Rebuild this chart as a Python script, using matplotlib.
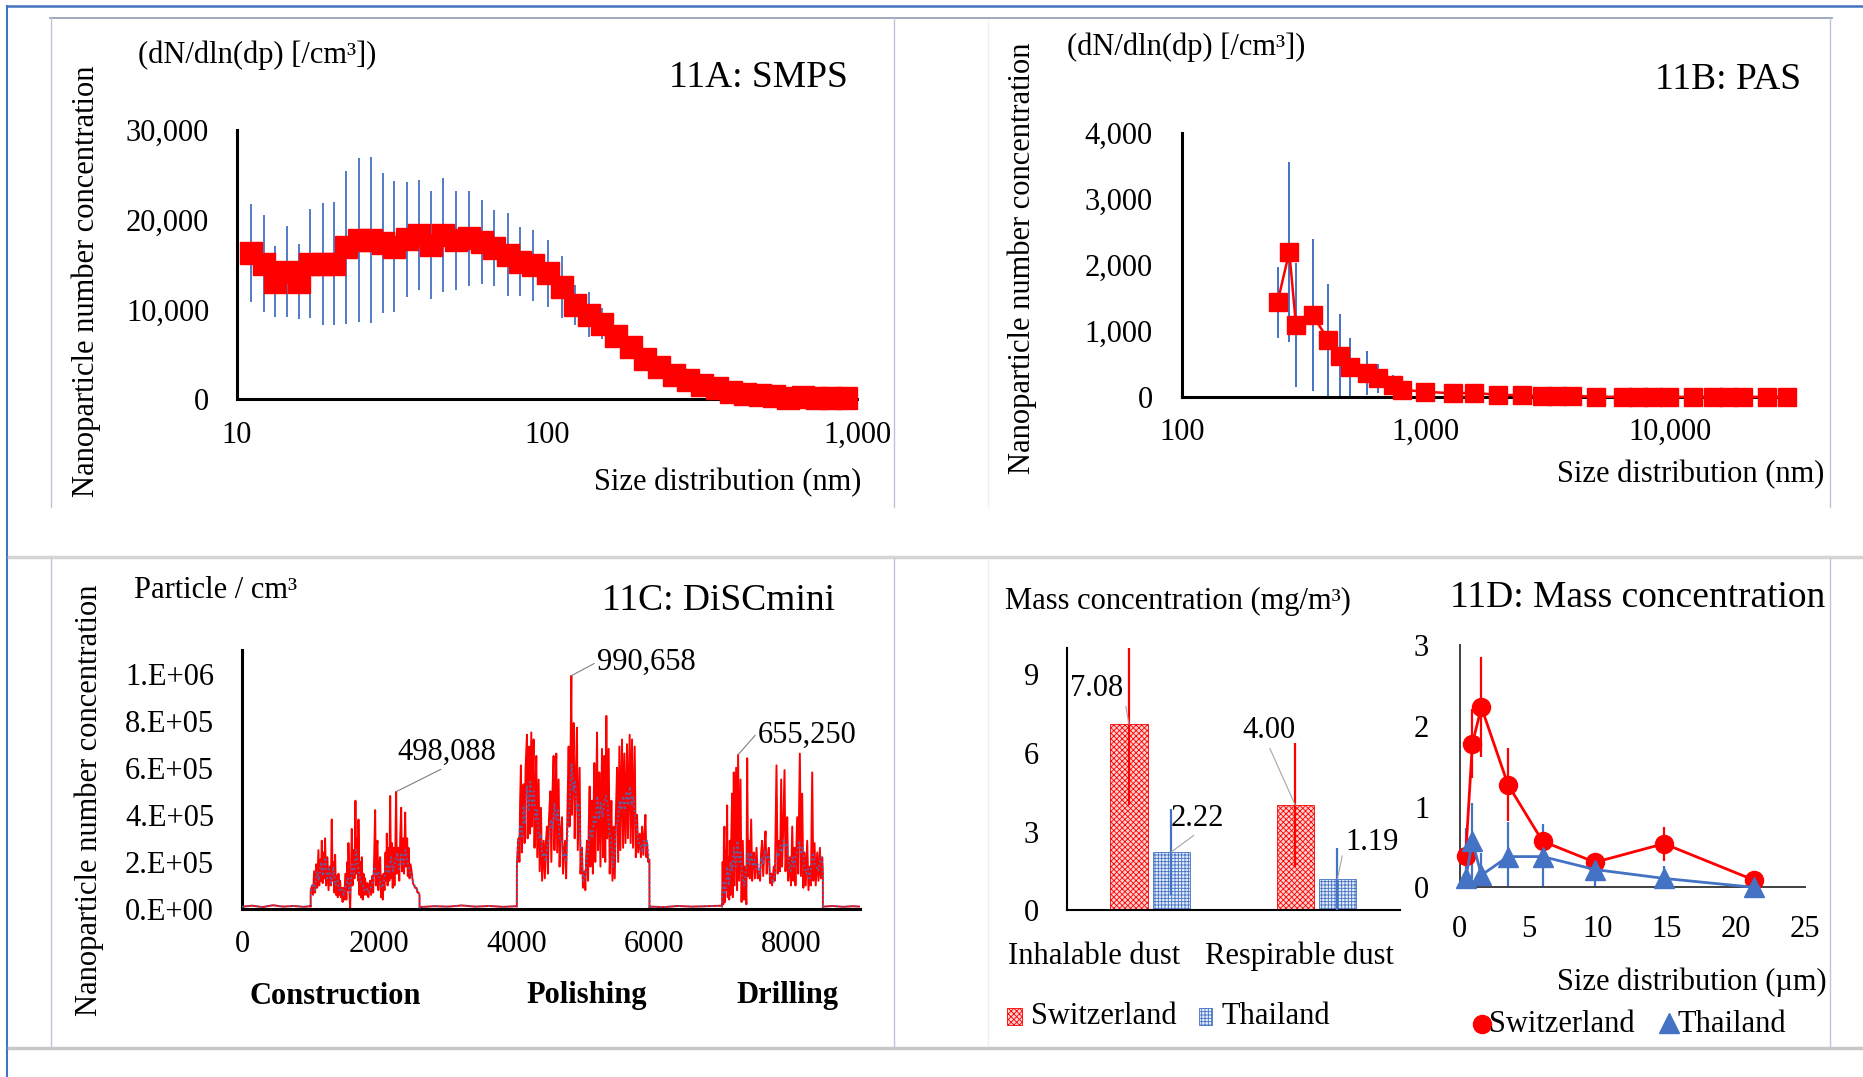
import numpy as np
import matplotlib as mpl
import matplotlib.pyplot as plt
from matplotlib.lines import Line2D
from matplotlib.patches import Rectangle
from matplotlib.ticker import NullLocator

# ---------------- style ----------------
mpl.rcParams.update({
    "font.family": ["Liberation Serif", "DejaVu Serif"],
    "font.size": 22,
    "hatch.linewidth": 0.6,
})

W, H = 1863, 1077
RED = "#FF0000"
BLUE = "#4472C4"

# ---------------- data ----------------
# 11A: SMPS, size (nm), mean and SD (dN/dln(dp) per cm3)
smps_size = [11.1, 12.2, 13.3, 14.5, 15.8, 17.2, 18.9, 20.5, 22.5, 24.7, 27.0, 29.6, 32.2, 35.4,
             38.6, 42.3, 46.3, 50.8, 56.1, 61.6, 67.6, 74.6, 81.9, 90.3, 100.4, 111.7, 123.2,
             136.4, 150.4, 167.4, 186.2, 207.1, 230.3, 256.2, 284.9, 316.9, 352.5, 392.0,
             436.1, 485.1, 539.6, 600.1, 667.5, 742.5, 825.8, 918.5]
smps_mean = [16300, 15100, 13100, 14200, 13100, 15100, 15100, 15100, 16900, 17700, 17700, 17400,
             17000, 17800, 18300, 17200, 18300, 17700, 17900, 17500, 16800, 16100, 15300, 14900,
             14000, 12500, 10500, 9400, 8400, 7000, 5800, 4500, 3600, 2700, 2100, 1600, 1200,
             800, 600, 450, 300, 150, 250, 150, 150, 120]
smps_sd = [5450, 5450, 3950, 5100, 4150, 6050, 6800, 6900, 8500, 9150, 9250, 7800, 7350, 6450,
           6100, 6000, 6400, 5550, 5250, 4700, 4250, 4600, 3850, 3950, 3750, 3450, 2250, 2500,
           1700, 1200, 800, 600, 450, 350, 250, 200, 150, 100, 80, 60, 50, 40, 30, 30, 30, 30]

# 11B: PAS
pas_size = [247, 276, 294, 344, 399, 446, 490, 573, 640, 735, 798, 993, 1290, 1582, 1985, 2490,
            2987, 3442, 3965, 4986, 6457, 7437, 8568, 9963, 12490, 15090, 17390, 20030, 24990, 30200]
pas_mean = [1435, 2200, 1090, 1240, 865, 625, 460, 360, 283, 180, 110, 80, 55, 65, 30, 30,
            15, 15, 15, 5, 2, 2, 2, 2, 2, 2, 2, 2, 2, 2]
pas_sd = [540, 1360, 935, 1155, 845, 636, 440, 330, 220, 150, 80, 40, 25, 20, 15, 10,
          8, 5, 5, 3, 0, 0, 0, 0, 0, 0, 0, 0, 0, 0]

# 11C: DiSCmini time series (time, particles/cm3 in units of 1e5)
disc_base_1 = [(0, 0.10), (150, 0.14), (300, 0.08), (450, 0.16), (600, 0.10), (750, 0.13),
               (900, 0.09), (999, 0.12)]
disc_base_2 = [(2590, 0.08), (2800, 0.12), (3000, 0.10), (3200, 0.15), (3400, 0.10),
               (3600, 0.13), (3800, 0.09), (4000, 0.12)]
disc_base_3 = [(5940, 0.10), (6150, 0.08), (6350, 0.13), (6550, 0.10), (6750, 0.12), (6990, 0.14)]
disc_base_4 = [(8465, 0.10), (8600, 0.13), (8750, 0.09), (8900, 0.12), (9000, 0.10)]

construction_red = [
    (1000, 0.1), (1001, 0.8), (1020, 1.0), (1035, 0.6), (1050, 1.6), (1065, 0.7), (1080, 1.9),
    (1095, 0.9), (1113, 2.5), (1125, 1.0), (1140, 2.1), (1150, 1.2), (1162, 2.9), (1175, 1.1),
    (1190, 2.4), (1200, 1.3), (1210, 3.0), (1225, 1.0), (1244, 2.2), (1260, 0.8), (1280, 1.8),
    (1295, 1.0), (1307, 3.8), (1320, 1.2), (1335, 2.0), (1345, 0.7), (1356, 2.3), (1370, 0.6),
    (1385, 1.4), (1395, 0.5), (1405, 1.5), (1415, 0.6), (1429, 1.2), (1440, 0.5), (1455, 0.9),
    (1465, 0.3), (1477, 0.9), (1490, 0.4), (1505, 1.5), (1520, 0.4), (1535, 2.0), (1545, 0.8),
    (1550, 2.8), (1565, 0.7), (1575, 0.0), (1585, 1.2), (1599, 3.4), (1610, 1.0), (1625, 2.5),
    (1638, 1.3), (1652, 4.6), (1665, 1.5), (1680, 3.0), (1690, 1.2), (1696, 3.8), (1710, 0.6),
    (1720, 2.0), (1732, 0.5), (1745, 2.2), (1758, 0.4), (1770, 1.5), (1780, 0.6), (1793, 1.3),
    (1810, 0.6), (1825, 1.1), (1840, 0.5), (1855, 1.0), (1866, 1.2), (1880, 0.6), (1895, 1.4),
    (1910, 0.7), (1925, 2.2), (1939, 4.2), (1950, 1.0), (1960, 2.5), (1973, 2.9), (1985, 0.8),
    (2000, 1.8), (2012, 2.2), (2025, 0.5), (2040, 1.4), (2050, 0.4), (2061, 1.5), (2075, 0.8),
    (2090, 2.4), (2100, 1.2), (2109, 3.2), (2120, 1.0), (2135, 2.6), (2145, 1.2), (2158, 4.8),
    (2170, 1.3), (2185, 2.8), (2195, 0.9), (2206, 2.6), (2220, 1.0), (2230, 1.9), (2245, 4.98088),
    (2255, 1.5), (2265, 2.4), (2279, 2.6), (2290, 1.2), (2305, 3.1), (2318, 4.3), (2330, 1.6),
    (2345, 3.0), (2360, 1.5), (2376, 4.1), (2390, 1.8), (2405, 3.0), (2415, 1.4), (2425, 2.6),
    (2440, 1.3), (2455, 1.9), (2474, 1.5), (2490, 1.1), (2505, 1.0), (2522, 0.9), (2540, 0.9),
    (2555, 0.7), (2571, 0.7), (2585, 0.6), (2586, 0.05)]
polishing_red = [
    (4003, 0.1), (4004, 1.9), (4015, 2.6), (4028, 3.0), (4040, 2.0), (4050, 4.5), (4062, 6.1),
    (4075, 2.4), (4088, 4.8), (4101, 5.3), (4115, 2.8), (4130, 6.0), (4150, 7.4), (4160, 3.0),
    (4172, 5.5), (4184, 6.9), (4195, 3.2), (4213, 7.5), (4225, 3.5), (4235, 5.8), (4247, 7.2),
    (4260, 2.6), (4275, 5.0), (4286, 6.5), (4300, 2.2), (4320, 5.5), (4335, 1.6), (4354, 4.3),
    (4370, 1.2), (4393, 2.9), (4410, 1.3), (4425, 2.8), (4441, 3.5), (4455, 1.5), (4470, 3.8),
    (4490, 5.0), (4505, 2.0), (4520, 4.8), (4538, 6.5), (4550, 2.5), (4565, 5.0), (4577, 6.6),
    (4590, 2.4), (4611, 5.5), (4625, 1.8), (4640, 3.2), (4660, 3.9), (4675, 1.5), (4690, 2.5),
    (4708, 2.9), (4720, 1.3), (4740, 4.2), (4757, 6.9), (4770, 3.5), (4785, 6.5), (4796, 9.90658),
    (4805, 4.0), (4818, 6.2), (4830, 7.9), (4845, 3.0), (4860, 5.5), (4878, 7.7), (4890, 2.5),
    (4905, 4.5), (4917, 6.0), (4930, 1.5), (4940, 2.2), (4951, 2.6), (4965, 0.9), (4985, 1.6),
    (5000, 0.8), (5012, 2.2), (5024, 2.9), (5040, 1.2), (5050, 3.5), (5063, 5.2), (5075, 1.8),
    (5085, 3.5), (5097, 4.6), (5110, 1.5), (5120, 4.0), (5131, 6.2), (5145, 2.0), (5158, 4.2),
    (5170, 7.5), (5185, 2.5), (5195, 4.0), (5204, 5.8), (5220, 1.8), (5232, 4.5), (5243, 6.8),
    (5258, 2.2), (5268, 4.8), (5277, 6.5), (5290, 2.0), (5306, 8.2), (5320, 3.0), (5330, 5.0),
    (5340, 6.8), (5355, 1.5), (5368, 3.0), (5379, 4.6), (5395, 1.2), (5413, 3.5), (5428, 1.3),
    (5445, 4.0), (5462, 6.0), (5478, 2.0), (5496, 6.9), (5510, 2.5), (5522, 5.0), (5534, 7.2),
    (5550, 2.6), (5568, 6.6), (5585, 2.8), (5607, 7.0), (5620, 3.0), (5635, 5.5), (5646, 7.4),
    (5660, 2.8), (5680, 7.2), (5695, 2.6), (5719, 6.9), (5735, 2.2), (5753, 4.0), (5770, 2.4),
    (5792, 3.2), (5810, 2.2), (5826, 3.5), (5845, 2.3), (5860, 3.2), (5875, 4.0), (5890, 2.2),
    (5899, 2.8), (5915, 2.0), (5933, 2.1), (5934, 0.05)]
drilling_red = [
    (6991, 0.1), (6992, 0.5), (7000, 2.0), (7010, 0.2), (7018, 2.8), (7026, 3.5), (7035, 0.3),
    (7045, 2.5), (7055, 0.8), (7065, 4.4), (7075, 0.5), (7085, 2.2), (7095, 0.4), (7104, 2.9),
    (7115, 0.6), (7125, 3.0), (7138, 4.9), (7148, 0.5), (7162, 5.8), (7175, 1.0), (7185, 3.5),
    (7196, 6.0), (7210, 0.8), (7225, 6.5525), (7240, 1.2), (7260, 5.5), (7275, 0.3), (7293, 2.9),
    (7310, 0.4), (7320, 1.8), (7332, 1.5), (7345, 0.2), (7357, 6.4), (7370, 1.4), (7381, 2.9),
    (7395, 1.3), (7415, 3.8), (7430, 1.2), (7440, 2.2), (7454, 2.4), (7470, 1.3), (7493, 2.6),
    (7510, 1.3), (7527, 1.6), (7545, 1.2), (7560, 2.4), (7575, 2.9), (7590, 1.4), (7610, 2.6),
    (7624, 3.3), (7640, 1.5), (7655, 2.2), (7672, 2.6), (7690, 1.1), (7706, 1.5), (7720, 1.0),
    (7745, 1.8), (7760, 1.2), (7784, 6.1), (7800, 1.5), (7818, 2.9), (7835, 1.6), (7852, 5.5),
    (7865, 1.8), (7880, 3.2), (7901, 5.9), (7915, 1.6), (7930, 2.5), (7940, 3.9), (7955, 1.2),
    (7968, 2.0), (7979, 2.2), (7995, 1.0), (8013, 3.5), (8030, 1.2), (8047, 2.6), (8060, 1.0),
    (8085, 3.9), (8100, 1.5), (8124, 6.6), (8140, 1.4), (8158, 4.9), (8175, 0.9), (8192, 2.4),
    (8210, 1.0), (8231, 2.9), (8250, 0.8), (8270, 1.8), (8285, 1.0), (8304, 5.8), (8320, 1.2),
    (8338, 2.8), (8355, 1.0), (8377, 2.4), (8395, 1.2), (8416, 2.6), (8430, 1.3), (8450, 2.2),
    (8459, 1.6), (8460, 0.05)]

construction_blue = [
    (1001, 0.7), (1030, 1.1), (1060, 0.8), (1090, 1.6), (1120, 1.2), (1150, 2.0), (1180, 1.4),
    (1210, 2.2), (1240, 1.3), (1270, 1.7), (1300, 1.1), (1330, 1.8), (1360, 1.0), (1390, 1.2),
    (1420, 0.8), (1450, 0.9), (1480, 0.6), (1510, 1.0), (1540, 1.3), (1570, 0.6), (1600, 1.9),
    (1630, 1.5), (1660, 2.5), (1690, 1.8), (1720, 1.2), (1750, 1.1), (1780, 0.8), (1810, 0.9),
    (1840, 0.7), (1870, 0.9), (1900, 1.1), (1930, 1.8), (1960, 1.4), (1990, 1.6), (2020, 1.0),
    (2050, 0.9), (2080, 1.4), (2110, 1.9), (2140, 1.5), (2170, 2.2), (2200, 1.6), (2230, 2.0),
    (2260, 2.4), (2290, 1.7), (2320, 2.4), (2350, 1.9), (2380, 2.5), (2410, 2.0), (2440, 1.6),
    (2470, 1.4), (2500, 1.1), (2530, 0.9), (2560, 0.8), (2585, 0.6), (2586, 0.05)]
polishing_blue = [
    (4004, 1.9), (4025, 2.8), (4050, 3.6), (4075, 3.0), (4100, 4.4), (4125, 3.6), (4150, 5.2),
    (4175, 4.2), (4200, 5.4), (4225, 4.4), (4250, 5.0), (4275, 3.8), (4300, 4.2), (4325, 3.0),
    (4350, 3.2), (4375, 2.2), (4400, 2.4), (4425, 2.0), (4450, 2.8), (4475, 3.0), (4500, 3.8),
    (4525, 3.4), (4550, 4.5), (4575, 3.8), (4600, 4.2), (4625, 3.0), (4650, 3.0), (4675, 2.2),
    (4700, 2.4), (4725, 2.0), (4750, 3.8), (4775, 4.6), (4800, 6.2), (4825, 5.0), (4850, 5.4),
    (4875, 4.2), (4900, 4.5), (4925, 3.0), (4950, 2.0), (4975, 1.2), (5000, 1.4), (5025, 2.2),
    (5050, 2.8), (5075, 3.4), (5100, 3.0), (5125, 4.0), (5150, 3.6), (5175, 4.8), (5200, 3.8),
    (5225, 4.5), (5250, 3.9), (5275, 4.6), (5300, 4.8), (5325, 4.4), (5350, 3.2), (5375, 3.0),
    (5400, 1.8), (5425, 2.4), (5450, 3.4), (5475, 3.8), (5500, 4.6), (5525, 4.2), (5550, 4.8),
    (5575, 4.2), (5600, 5.0), (5625, 4.4), (5650, 5.2), (5675, 4.4), (5700, 4.8), (5725, 3.8),
    (5750, 3.4), (5775, 2.8), (5800, 2.8), (5825, 2.4), (5850, 2.9), (5875, 2.6), (5900, 2.9),
    (5933, 2.0), (5934, 0.05)]
drilling_blue = [
    (6992, 0.4), (7015, 1.2), (7040, 0.6), (7065, 1.8), (7090, 1.0), (7115, 2.0), (7140, 1.6),
    (7165, 2.6), (7190, 1.8), (7215, 2.9), (7240, 2.0), (7265, 2.4), (7290, 1.3), (7315, 1.0),
    (7340, 1.6), (7365, 2.4), (7390, 1.9), (7415, 2.4), (7440, 1.8), (7465, 2.1), (7490, 1.7),
    (7515, 1.9), (7540, 1.5), (7565, 2.2), (7590, 1.9), (7615, 2.5), (7640, 2.1), (7665, 2.3),
    (7690, 1.4), (7715, 1.3), (7740, 1.1), (7765, 1.6), (7790, 2.4), (7815, 2.2), (7840, 2.7),
    (7865, 2.4), (7890, 3.0), (7915, 2.6), (7940, 2.8), (7965, 1.8), (7990, 1.6), (8015, 2.2),
    (8040, 1.8), (8065, 2.3), (8090, 2.5), (8115, 2.9), (8140, 2.4), (8165, 2.6), (8190, 1.8),
    (8215, 1.5), (8240, 1.7), (8265, 1.3), (8290, 1.8), (8315, 2.4), (8340, 1.9), (8365, 1.8),
    (8390, 1.6), (8415, 2.0), (8440, 2.2), (8459, 1.6), (8460, 0.05)]

peak_t = [2245, 4796, 7225]
peak_v = [498088, 990658, 655250]
activities = ["Construction", "Polishing", "Drilling"]

# 11D: mass concentration
dust_types = ["Inhalable dust", "Respirable dust"]
mass_swiss = [7.08, 4.00]
mass_swiss_sd = [3.07, 2.37]
mass_thai = [2.22, 1.19]
mass_thai_sd = [1.64, 1.17]

impactor_size = [0.43, 0.92, 1.57, 3.5, 6.0, 9.8, 14.8, 21.3]
imp_swiss = [0.39, 1.78, 2.23, 1.27, 0.57, 0.31, 0.54, 0.09]
imp_swiss_sd = [0.05, 0.43, 0.62, 0.45, 0.08, 0.03, 0.21, 0.03]
imp_thai = [0.11, 0.57, 0.15, 0.38, 0.38, 0.22, 0.11, 0.0]
imp_thai_sd = [0.63, 0.47, 0.28, 0.43, 0.40, 0.21, 0.15, 0.0]


# ---------------- helpers (pixel layout) ----------------
def rect(x0, y0, x1, y1):
    return [x0 / W, 1 - y1 / H, (x1 - x0) / W, (y1 - y0) / H]


def ftext(x, y, s, **kw):
    fig.text(x / W, 1 - y / H, s, **kw)


def fline(xs, ys, **kw):
    fig.add_artist(Line2D([x / W for x in xs], [1 - y / H for y in ys],
                          transform=fig.transFigure, **kw))


def style(ax, lw=2.2, color="black"):
    for s in ["top", "right"]:
        ax.spines[s].set_visible(False)
    for s in ["left", "bottom"]:
        ax.spines[s].set_linewidth(lw)
        ax.spines[s].set_color(color)
    ax.tick_params(length=0, labelsize=22)
    ax.xaxis.set_minor_locator(NullLocator())
    ax.yaxis.set_minor_locator(NullLocator())
    ax.patch.set_alpha(0)


def comma(vals):
    return [f"{v:,.0f}" for v in vals]


fig = plt.figure(figsize=(W / 100, H / 100), dpi=100)

# ---------------- frame (table borders) ----------------
fline([7, 1863], [6, 6], color=BLUE, lw=1.8)
fline([7, 7], [6, 1077], color=BLUE, lw=1.5)
fline([50, 1832], [18, 18], color="#8c9bb0", lw=1.2)
fline([9, 1863], [556.5, 556.5], color="#d4d4d4", lw=2.5)
fline([9, 1863], [1047.5, 1047.5], color="#c8c8c8", lw=2.5)
for xv in [51, 893.5, 1830]:
    fline([xv, xv], [18, 507], color="#bcc6d8", lw=1.0)
    fline([xv, xv], [558, 1047], color="#bcc6d8", lw=1.0)
fline([988, 988], [20, 507], color="#f0f0f0", lw=1.0)
fline([988, 988], [560, 1045], color="#f0f0f0", lw=1.0)

# ---------------- 11A: SMPS ----------------
axA = fig.add_axes(rect(237, 130, 857, 399))
axA.errorbar(smps_size, smps_mean, yerr=smps_sd, fmt="none", ecolor=BLUE, elinewidth=1.3,
             capsize=0, zorder=2)
axA.plot(smps_size, smps_mean, color=RED, lw=1.8, marker="s", ms=15.5, mec=RED, mfc=RED,
         zorder=3, clip_on=False)
axA.set_xscale("log")
axA.set_xlim(10, 1000)
axA.set_ylim(0, 30000)
style(axA)
axA.set_xticks([10, 100, 1000], comma([10, 100, 1000]))
axA.set_yticks([0, 10000, 20000, 30000], comma([0, 10000, 20000, 30000]))
axA.xaxis.set_minor_locator(NullLocator())
axA.tick_params(axis="x", pad=16)
axA.tick_params(axis="y", pad=20)

ftext(86, 281, "Nanoparticle number concentration", rotation=90, ha="center", va="center")
ftext(138, 55, "(dN/dln(dp) [/cm³])", ha="left", va="center")
ftext(848, 78, "11A: SMPS", ha="right", va="center", fontsize=27)
ftext(861, 483, "Size distribution (nm)", ha="right", va="center")

# ---------------- 11B: PAS ----------------
axB = fig.add_axes(rect(1181.7, 133, 1793, 397))
axB.errorbar(pas_size, pas_mean, yerr=pas_sd, fmt="none", ecolor=BLUE, elinewidth=1.4,
             capsize=0, zorder=2)
axB.plot(pas_size, pas_mean, color=RED, lw=1.8, marker="s", ms=13.5, mec=RED, mfc=RED,
         zorder=3, clip_on=False)
axB.set_xscale("log")
axB.set_xlim(100, 32000)
axB.set_ylim(0, 4000)
style(axB)
axB.set_xticks([100, 1000, 10000], comma([100, 1000, 10000]))
axB.set_yticks([0, 1000, 2000, 3000, 4000], comma([0, 1000, 2000, 3000, 4000]))
axB.xaxis.set_minor_locator(NullLocator())
axB.tick_params(axis="x", pad=15)
axB.tick_params(axis="y", pad=21)

ftext(1022, 258, "Nanoparticle number concentration", rotation=90, ha="center", va="center")
ftext(1067, 47, "(dN/dln(dp) [/cm³])", ha="left", va="center")
ftext(1801, 80, "11B: PAS", ha="right", va="center", fontsize=27)
ftext(1824, 475, "Size distribution (nm)", ha="right", va="center")

# ---------------- 11C: DiSCmini ----------------
red_pts = np.array(disc_base_1 + construction_red + disc_base_2 + polishing_red
                   + disc_base_3 + drilling_red + disc_base_4)
blue_pts = np.array(disc_base_1 + construction_blue + disc_base_2 + polishing_blue
                    + disc_base_3 + drilling_blue + disc_base_4)

axC = fig.add_axes(rect(242, 650, 860, 909))
axC.plot(red_pts[:, 0], red_pts[:, 1] * 1e5, color=RED, lw=1.4, zorder=2)
axC.plot(blue_pts[:, 0], blue_pts[:, 1] * 1e5, color=BLUE, lw=1.4, ls=(0, (1.0, 1.4)),
         alpha=0.8, zorder=3)
axC.set_xlim(0, 9000)
axC.set_ylim(0, 1.1e6)
style(axC)
axC.set_xticks([0, 2000, 4000, 6000, 8000])
axC.set_yticks([0, 2e5, 4e5, 6e5, 8e5, 1e6],
               ["0.E+00", "2.E+05", "4.E+05", "6.E+05", "8.E+05", "1.E+06"])
axC.tick_params(axis="x", pad=15)
axC.tick_params(axis="y", pad=20)

label_pos = [(397, 752, (0.5, 0.0)), (597, 662, (0.0, 0.5)), (758, 735, (0.0, 0.6))]
for t, v, (lx, ly, rp) in zip(peak_t, peak_v, label_pos):
    axC.annotate(f"{v:,}", xy=(t, v), xycoords="data", xytext=(lx / W, 1 - ly / H),
                 textcoords="figure fraction", ha="left", va="center", fontsize=22,
                 arrowprops=dict(arrowstyle="-", color="#808080", lw=0.8, shrinkA=0,
                                 shrinkB=0, relpos=rp))

ftext(89, 800, "Nanoparticle number concentration", rotation=90, ha="center", va="center")
ftext(134, 590, "Particle / cm³", ha="left", va="center")
ftext(835, 601, "11C: DiSCmini", ha="right", va="center", fontsize=27)
for name, cx in zip(activities, [335.5, 587, 787]):
    ftext(cx, 996, name, ha="center", va="center", fontweight="bold")

# ---------------- 11D: bars ----------------
axDb = fig.add_axes(rect(1067, 647.7, 1399.5, 910.3))
xpos = np.arange(len(dust_types))
bw, off = 0.224, 0.127
axDb.bar(xpos - off, mass_swiss, width=bw, facecolor="#fbd0d0", edgecolor=RED, lw=0.6,
         hatch="xxxxxx", zorder=2)
axDb.bar(xpos + off, mass_thai, width=bw, facecolor="#e6edf8", edgecolor=BLUE, lw=0.6,
         hatch="+++++", zorder=2)
axDb.errorbar(xpos - off, mass_swiss, yerr=mass_swiss_sd, fmt="none", ecolor=RED,
              elinewidth=1.6, capsize=0, zorder=3)
axDb.errorbar(xpos + off, mass_thai, yerr=mass_thai_sd, fmt="none", ecolor=BLUE,
              elinewidth=1.6, capsize=0, zorder=3)
axDb.set_xlim(-0.5, 1.5)
axDb.set_ylim(0, 10)
style(axDb, lw=1.5)
axDb.set_yticks([0, 3, 6, 9])
axDb.set_xticks([])
axDb.tick_params(axis="y", pad=20)
for name, cx in zip(dust_types, [1094, 1299]):
    ftext(cx, 956, name, ha="center", va="center")

bar_lab = [(xpos[0] - off, mass_swiss[0], 1070, 689, (1.0, 0.4)),
           (xpos[0] + off, mass_thai[0], 1171, 818, (0.5, 0.0)),
           (xpos[1] - off, mass_swiss[1], 1242, 731, (0.5, 0.0)),
           (xpos[1] + off, mass_thai[1], 1345, 842, (0.0, 0.5))]
for bx, bv, lx, ly, rp in bar_lab:
    axDb.annotate(f"{bv:.2f}", xy=(bx, bv), xycoords="data", xytext=(lx / W, 1 - ly / H),
                  textcoords="figure fraction", ha="left", va="center", fontsize=22,
                  arrowprops=dict(arrowstyle="-", color="#a6a6a6", lw=0.8, shrinkA=0,
                                  shrinkB=0, relpos=rp))

ftext(1005, 601, "Mass concentration (mg/m³)", ha="left", va="center")
fig.add_artist(Rectangle((1007.5 / W, 1 - 1025 / H), 14.5 / W, 17 / H, transform=fig.transFigure,
                         facecolor="#fbd0d0", edgecolor=RED, lw=0.6, hatch="xxxxxx"))
ftext(1031, 1017, "Switzerland", ha="left", va="center")
fig.add_artist(Rectangle((1198.5 / W, 1 - 1025 / H), 13.5 / W, 17 / H, transform=fig.transFigure,
                         facecolor="#e6edf8", edgecolor=BLUE, lw=0.6, hatch="+++++"))
ftext(1221, 1017, "Thailand", ha="left", va="center")

# ---------------- 11D: impactor line chart ----------------
axDl = fig.add_axes(rect(1459.7, 645, 1804.9, 887.3))
axDl.errorbar(impactor_size, imp_swiss, yerr=imp_swiss_sd, fmt="none", ecolor=RED,
              elinewidth=1.6, capsize=0, zorder=2)
axDl.errorbar(impactor_size, imp_thai, yerr=imp_thai_sd, fmt="none", ecolor=BLUE,
              elinewidth=1.6, capsize=0, zorder=2)
axDl.plot(impactor_size, imp_swiss, color=RED, lw=2.0, marker="o", ms=13, zorder=3,
          clip_on=False)
axDl.plot(impactor_size, imp_thai, color=BLUE, lw=2.0, marker="^", ms=14, zorder=4,
          clip_on=False)
axDl.set_xlim(0, 25)
axDl.set_ylim(0, 3)
style(axDl, lw=1.4, color="#404040")
axDl.set_xticks([0, 5, 10, 15, 20, 25])
axDl.set_yticks([0, 1, 2, 3])
axDl.tick_params(axis="x", pad=20)
axDl.tick_params(axis="y", pad=22)

ftext(1825, 598, "11D: Mass concentration", ha="right", va="center", fontsize=27)
ftext(1827, 982, "Size distribution (µm)", ha="right", va="center")
fig.add_artist(Line2D([1482 / W], [1 - 1024 / H], transform=fig.transFigure, marker="o",
                      ms=13, color=RED, ls="none"))
ftext(1489, 1025, "Switzerland", ha="left", va="center")
fig.add_artist(Line2D([1669 / W], [1 - 1023 / H], transform=fig.transFigure, marker="^",
                      ms=14, color=BLUE, ls="none"))
ftext(1678, 1025, "Thailand", ha="left", va="center")

fig.savefig("out.png", dpi=100)
